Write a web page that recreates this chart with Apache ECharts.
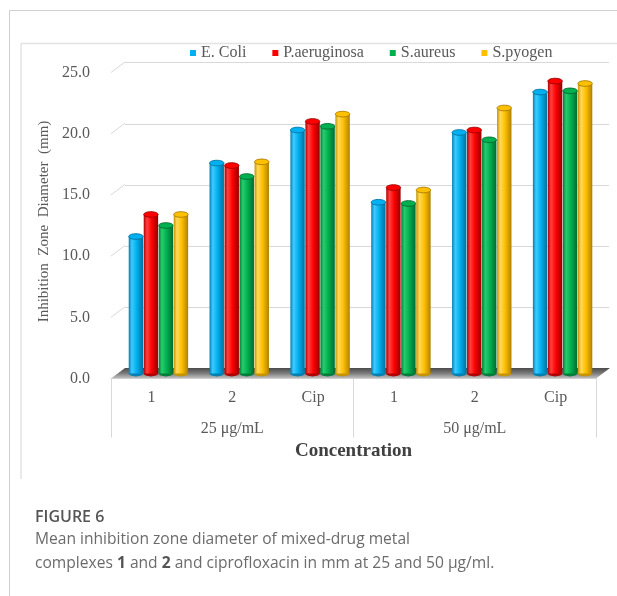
<!DOCTYPE html>
<html>
<head>
<meta charset="utf-8">
<script src="https://cdn.jsdelivr.net/npm/echarts@6/dist/echarts.min.js"></script>
<style>
html,body{margin:0;padding:0;background:#fff;}
#chart{width:617px;height:596px;}
</style>
</head>
<body>
<div id="chart"></div>
<script>
// ---- data ----
const categories = ['1', '2', 'Cip', '1', '2', 'Cip'];
const groups = ['25 μg/mL', '50 μg/mL'];
const seriesNames = ['E. Coli', 'P.aeruginosa', 'S.aureus', 'S.pyogen'];
const eColi = [11.2, 17.2, 19.9, 14.0, 19.7, 23.0];
const pAeruginosa = [13.0, 17.0, 20.6, 15.2, 19.9, 23.9];
const sAureus = [12.1, 16.1, 20.2, 13.9, 19.1, 23.1];
const sPyogen = [13.0, 17.3, 21.2, 15.0, 21.7, 23.7];
const yTicks = [5, 10, 15, 20, 25];

const valueSets = [eColi, pAeruginosa, sAureus, sPyogen];
const palette = [
  {base: '#00B0F0', light: '#3fcaff', dark: '#0080b2', rim: '#0073a3'},
  {base: '#FF0000', light: '#ff4040', dark: '#b00000', rim: '#9c0000'},
  {base: '#00B050', light: '#28cc6c', dark: '#007d38', rim: '#006a2e'},
  {base: '#FFC000', light: '#ffd95a', dark: '#c79300', rim: '#a87c00'}
];

const SERIF = '"Liberation Serif", "Times New Roman", serif';
const DEPTH_X = 14, DEPTH_Y = 10.6;

const chart = echarts.init(document.getElementById('chart'), null, {renderer: 'canvas'});

function cylinderRenderer(sIdx) {
  const p = palette[sIdx];
  return function (params, api) {
    const cat = api.value(0), v = api.value(1);
    const top = api.coord([cat, v]);
    const base = api.coord([cat, 0]);
    const w = 14.4, step = 15;
    const cx = top[0] + (sIdx - 1.5) * step;
    const x0 = cx - w / 2;
    const ry = 2.8;
    const grad = new echarts.graphic.LinearGradient(0, 0, 1, 0, [
      {offset: 0, color: p.dark},
      {offset: 0.22, color: p.light},
      {offset: 0.55, color: p.base},
      {offset: 0.88, color: p.dark},
      {offset: 1, color: p.rim}
    ]);
    return {
      type: 'group',
      children: [
        {type: 'ellipse', shape: {cx: cx, cy: base[1], rx: w / 2, ry: ry}, style: {fill: p.dark}},
        {type: 'rect', shape: {x: x0, y: top[1], width: w, height: base[1] - top[1]}, style: {fill: grad}},
        {type: 'ellipse', shape: {cx: cx, cy: top[1], rx: w / 2, ry: ry},
          style: {fill: p.base, stroke: p.rim, lineWidth: 0.9}}
      ]
    };
  };
}

const series = [];
// floor (3D base plate) in front grid
series.push({
  type: 'custom', name: 'floor', xAxisIndex: 1, yAxisIndex: 1, silent: true, z: 1,
  data: [[0, 0]],
  renderItem: function (params, api) {
    const bw = api.size([1, 0])[0];
    const a = api.coord([0, 0]);
    const b = api.coord([categories.length - 1, 0]);
    const x0 = a[0] - bw / 2, x1 = b[0] + bw / 2, y = a[1];
    return {
      type: 'polygon',
      shape: {points: [[x0, y], [x1, y], [x1 + DEPTH_X, y - DEPTH_Y], [x0 + DEPTH_X, y - DEPTH_Y]]},
      style: {fill: new echarts.graphic.LinearGradient(0, 0, 0, 1, [
        {offset: 0, color: '#4a4a4a'},
        {offset: 0.5, color: '#7a7a7a'},
        {offset: 1, color: '#c4c4c4'}
      ])}
    };
  }
});
// diagonal tick lines on left wall
series.push({
  type: 'custom', name: 'wallTicks', xAxisIndex: 1, yAxisIndex: 1, silent: true, z: 1,
  data: yTicks.map(v => [0, v]),
  renderItem: function (params, api) {
    const bw = api.size([1, 0])[0];
    const c = api.coord([0, api.value(1)]);
    const x = c[0] - bw / 2;
    return {
      type: 'line',
      shape: {x1: x, y1: c[1], x2: x + DEPTH_X, y2: c[1] - DEPTH_Y},
      style: {stroke: '#d9d9d9', lineWidth: 1}
    };
  }
});
// cylinders
seriesNames.forEach((name, i) => {
  series.push({
    type: 'custom', name: name, xAxisIndex: 2, yAxisIndex: 2, z: 3,
    itemStyle: {color: palette[i].base},
    encode: {x: 0, y: 1},
    data: valueSets[i].map((v, k) => [k, v]),
    renderItem: cylinderRenderer(i)
  });
});

const option = {
  animation: false,
  backgroundColor: '#ffffff',
  legend: {
    data: seriesNames,
    left: 190, top: 45, padding: 0,
    icon: 'rect', itemWidth: 6, itemHeight: 6, itemGap: 26,
    textStyle: {fontFamily: SERIF, fontSize: 16, color: '#595959'}
  },
  grid: [
    {left: 125, top: 62.7, width: 484, height: 306},   // back wall
    {left: 111, top: 72.5, width: 485, height: 306},   // front plane
    {left: 118, top: 67.6, width: 485, height: 306}    // bars (mid depth)
  ],
  xAxis: [
    {gridIndex: 0, type: 'category', data: categories, show: false},
    {gridIndex: 1, type: 'category', data: categories,
      axisLine: {show: true, lineStyle: {color: '#d9d9d9', width: 1}},
      axisTick: {show: false},
      axisLabel: {margin: 11, fontFamily: SERIF, fontSize: 16, color: '#595959'}},
    {gridIndex: 2, type: 'category', data: categories, show: false},
    {gridIndex: 1, type: 'category', data: groups, position: 'bottom',
      axisLine: {show: false},
      axisTick: {show: true, length: 59, lineStyle: {color: '#d9d9d9', width: 1}},
      axisLabel: {margin: 42, fontFamily: SERIF, fontSize: 16, color: '#595959'},
      name: 'Concentration', nameLocation: 'middle', nameGap: 63,
      nameTextStyle: {fontFamily: SERIF, fontSize: 19, fontWeight: 'bold', color: '#404040'}}
  ],
  yAxis: [
    {gridIndex: 0, type: 'value', min: 0, max: 25, interval: 5,
      axisLine: {show: false}, axisTick: {show: false}, axisLabel: {show: false},
      splitLine: {show: true, lineStyle: {color: '#d9d9d9', width: 1}}},
    {gridIndex: 1, type: 'value', min: 0, max: 25, interval: 5,
      axisLine: {show: false}, axisTick: {show: false}, splitLine: {show: false},
      axisLabel: {margin: 21, fontFamily: SERIF, fontSize: 16, color: '#595959',
        formatter: v => v.toFixed(1)},
      name: 'Inhibition  Zone  Diameter  (mm)', nameLocation: 'middle', nameGap: 54,
      nameTextStyle: {fontFamily: SERIF, fontSize: 15, color: '#595959', padding: [0, 0, 0, 8]}},
    {gridIndex: 2, type: 'value', min: 0, max: 25, interval: 5, show: false, splitLine: {show: false}}
  ],
  series: series,
  graphic: [
    {type: 'line', silent: true, shape: {x1: 9.5, y1: 10.5, x2: 617, y2: 10.5}, style: {stroke: '#cfcfcf', lineWidth: 1}},
    {type: 'line', silent: true, shape: {x1: 9.5, y1: 10.5, x2: 9.5, y2: 596}, style: {stroke: '#cfcfcf', lineWidth: 1}},
    {type: 'line', silent: true, shape: {x1: 21, y1: 43.5, x2: 617, y2: 43.5}, style: {stroke: '#e3e3e3', lineWidth: 1.5}},
    {type: 'line', silent: true, shape: {x1: 21, y1: 43.5, x2: 21, y2: 479}, style: {stroke: '#e3e3e3', lineWidth: 1.5}},
    {type: 'text', left: 35, top: 509.5, silent: true,
      style: {text: 'FIGURE 6', font: '600 16px "Open Sans", sans-serif', fill: '#555555'}},
    {type: 'text', left: 35, top: 532, silent: true,
      style: {text: 'Mean inhibition zone diameter of mixed-drug metal', font: '15.6px "Open Sans", sans-serif', fill: '#6b6b6b'}},
    {type: 'text', left: 35, top: 556, silent: true,
      style: {
        text: 'complexes {b|1} and {b|2} and ciprofloxacin in mm at 25 and 50 μg/ml.',
        font: '15.6px "Open Sans", sans-serif', fill: '#6b6b6b',
        rich: {b: {fontFamily: '"Open Sans", sans-serif', fontSize: 15.6, fontWeight: 'bold', fill: '#555555'}}
      }}
  ]
};
chart.setOption(option);
</script>
</body>
</html>
